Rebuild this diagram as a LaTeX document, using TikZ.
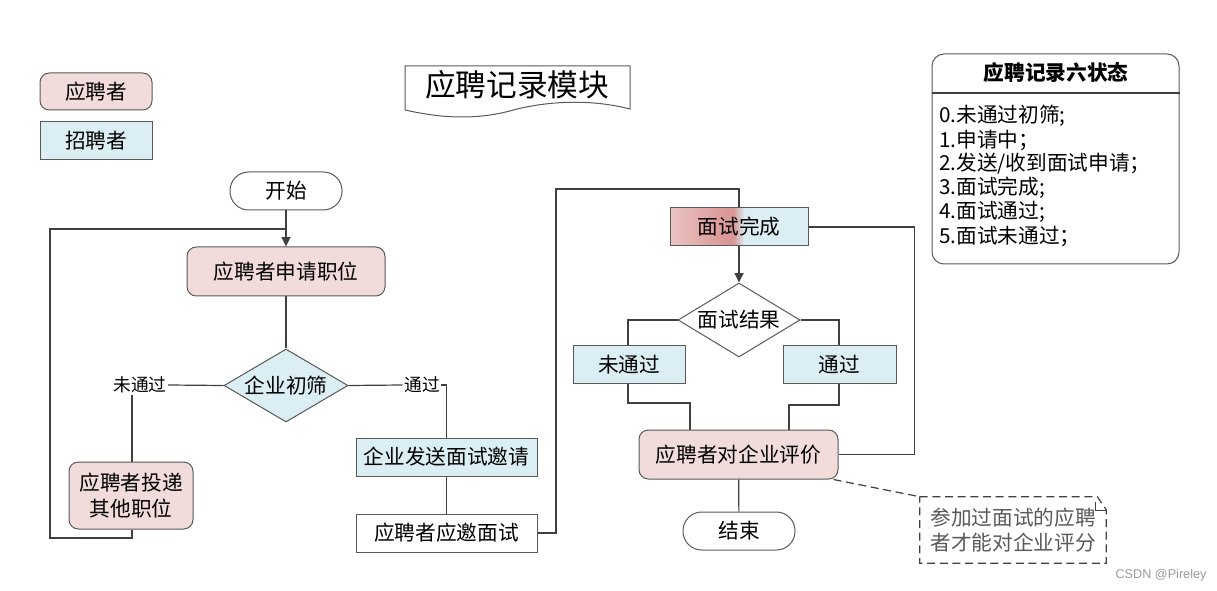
\documentclass[tikz,border=0pt]{standalone}
\usepackage{fontspec}
\setmainfont{Noto Sans CJK SC}
\newfontfamily\wmfont{Liberation Sans}
\usetikzlibrary{arrows.meta,shapes.geometric,calc}
\definecolor{pinkF}{HTML}{F2DCDB}
\definecolor{blueF}{HTML}{DAEEF3}
\definecolor{bord}{HTML}{595959}
\definecolor{linec}{HTML}{404040}
\definecolor{pinkL}{HTML}{EBC4C3}
\definecolor{redD}{HTML}{D99694}
\pgfdeclarehorizontalshading{donesh}{100bp}{color(0bp)=(pinkL); color(25bp)=(pinkL); color(46bp)=(redD); color(48bp)=(redD); color(52bp)=(blueF); color(100bp)=(blueF)}
\newcommand\fmain{\fontsize{15.5pt}{19pt}\selectfont}
\newcommand\flabel{\fontsize{13.3pt}{16pt}\selectfont}
\newcommand\ftitle{\fontsize{23pt}{28pt}\selectfont}
\begin{document}
\begin{tikzpicture}[x=0.75pt,y=-0.75pt,
  sz/.style 2 args={minimum width=#1*0.75pt, minimum height=#2*0.75pt},
  base/.style={font=\fmain, inner sep=0pt, draw=bord, line width=0.75pt},
  pinkbox/.style={base, fill=pinkF, rounded corners=7pt},
  bluebox/.style={base, fill=blueF},
  whitebox/.style={base, fill=white},
  term/.style={base, fill=white, rounded corners=14pt},
  decision/.style={base, diamond, shape aspect=1.7},
  lbl/.style={font=\flabel, inner sep=1pt, fill=white},
  stline/.style={font=\fmain, anchor=west, inner sep=0pt},
  line/.style={draw=linec, line width=0.9pt},
  arrowline/.style={line, -{Triangle[width=6.75pt,length=7pt]}},
  dashline/.style={draw=linec, line width=0.9pt, dash pattern=on 6pt off 3.5pt}
]
\useasboundingbox (0,0) rectangle (1217,591);

% legend
\node[pinkbox, sz={112}{37}] (legA) at (96,91.5) {应聘者};
\node[bluebox, sz={112}{38}] (legB) at (96,141) {招聘者};

% title (document shape)
\draw[draw=bord, line width=0.75pt, fill=white] (405,66) -- (630,66) -- (630,109)
  .. controls (595,100) and (555,100) .. (517,109)
  .. controls (480,120) and (445,119) .. (405,110) -- cycle;
\node[font=\ftitle, inner sep=0pt] (title) at (517,85) {应聘记录模块};

% states box
\node[base, rounded corners=9pt, sz={247}{210}, fill=white] (states) at (1055.5,159) {};
\node[font=\fmain\bfseries, inner sep=0pt] (stTitle) at (1056,73) {应聘记录六状态};
\coordinate (sepY) at (0,93);
\draw[draw=linec, line width=0.9pt] (states.west |- sepY) -- (states.east |- sepY);
\node[stline] (s0) at (939,116) {0.未通过初筛;};
\node[stline] (s1) at (939,140) {1.申请中；};
\node[stline] (s2) at (939,164) {2.发送/收到面试申请；};
\node[stline] (s3) at (939,188) {3.面试完成;};
\node[stline] (s4) at (939,212) {4.面试通过;};
\node[stline] (s5) at (939,236) {5.面试未通过；};

% flow nodes
\node[term, sz={112}{38}] (start) at (286,191) {开始};
\node[pinkbox, sz={198}{49}] (apply) at (286,271.5) {应聘者申请职位};
\node[decision, fill=blueF, sz={124}{73}] (screen) at (286,385.5) {企业初筛};
\node[lbl] (lblNo) at (140,385) {未通过};
\node[lbl] (lblYes) at (422,385) {通过};
\node[pinkbox, sz={124}{67}, align=center] (other) at (131,495.5) {应聘者投递\\其他职位};
\node[bluebox, sz={181}{38}] (invite) at (446.5,457) {企业发送面试邀请};
\node[whitebox, sz={181}{38}] (attend) at (446.5,533) {应聘者应邀面试};
\node[base, shading=donesh, sz={138}{38}] (done) at (739,227) {面试完成};
\node[decision, fill=white, sz={122}{74}] (result) at (739,320) {面试结果};
\node[bluebox, sz={112}{38}] (fail) at (629,365) {未通过};
\node[bluebox, sz={113}{38}] (pass) at (839.5,365) {通过};
\node[pinkbox, sz={199}{49}] (review) at (738.5,454.5) {应聘者对企业评价};
\node[term, sz={112}{38}] (stop) at (739,531) {结束};
\node[sz={186}{66}, inner sep=0pt, align=left, font=\fmain, text=bord] (note) at (1013,530) {参加过面试的应聘\\者才能对企业评分};

% note outline (dog-ear)
\draw[dashline] (note.north west) -- ($(note.north east)+(-9,0)$) -- ($(note.north east)+(0,13)$)
  -- (note.south east) -- (note.south west) -- cycle;
\draw[dashline, dash pattern=] ($(note.north east)+(-11,5)$) -- ++(0,9) -- ++(11,0);

% connectors
\coordinate (join) at (286,229);
\coordinate (loopA) at (50,538);
\coordinate (loopB) at (50,229);
\draw[arrowline] (start) -- (apply);
\draw[line] (other.south -| 132,0) |- (loopA) -- (loopB) -- (join);
\draw[line] (apply) -- (screen);
\draw[line] (screen.west) -- (lblNo.east);
\draw[line] (lblNo.south -| 132,0) -- (other.north -| 132,0);
\draw[line] (screen.east) -- (lblYes.west);
\draw[line] (lblYes.east) -| (invite.north);
\draw[line] (invite) -- (attend);
\coordinate (up1) at (556,189);
\draw[line] (attend.east) -| (up1) -| (done.north);
\draw[arrowline] (done) -- (result);
\draw[line] (result.west) -| (fail.north -| 628,0);
\draw[line] (result.east) -| (pass.north -| 839,0);
\coordinate (f1) at (690,403);
\coordinate (p1) at (789,405);
\draw[line] (fail.south -| 628,0) |- (f1) -- (f1 |- review.north);
\draw[line] (pass.south -| 839,0) |- (p1) -- (p1 |- review.north);
\draw[line] (done.east) -- ++(106,0) |- (review.east);
\draw[line] (review) -- (stop);
\draw[dashline] ($(review.south east)+(-5,0)$) -- (note.north west);

% watermark
\node[font=\wmfont\fontsize{9.5pt}{11pt}\selectfont, text=black!40, inner sep=0pt] (wm) at (1161,575) {CSDN @Pireley};
\end{tikzpicture}
\end{document}
